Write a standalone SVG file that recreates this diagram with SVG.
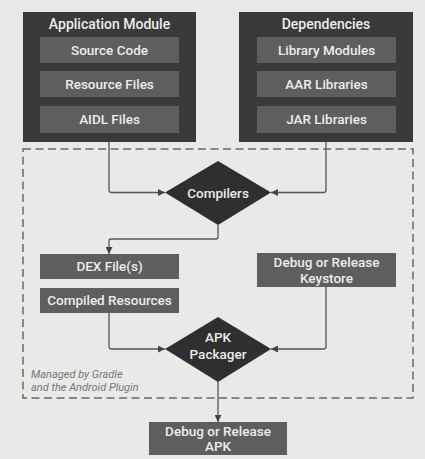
<svg xmlns="http://www.w3.org/2000/svg" width="425" height="459" viewBox="0 0 425 459">
<style>
.bg{fill:#e9e9e7}
.outer{fill:#3a3a3a}
.inner{fill:#5e5e5e}
.dia{fill:#2f2f2f}
.t{font-family:Roboto,"Liberation Sans",sans-serif;font-weight:500;fill:#ececec;text-anchor:middle}
.h{font-size:14px}
.s{font-size:13.5px}
.conn{fill:none;stroke:#555;stroke-width:1.3;stroke-linejoin:round}
.dash{fill:none;stroke:#6a6a6a;stroke-width:1.5;stroke-dasharray:8 4.5}
.note{font-family:Roboto,"Liberation Sans",sans-serif;font-style:italic;font-size:11px;fill:#777}
</style>
<defs>
<marker id="ah" viewBox="0 0 10 10" refX="10" refY="5" markerWidth="7" markerHeight="7" orient="auto" markerUnits="userSpaceOnUse">
<path d="M0,0 L10,5 L0,10 z" fill="#444"/>
</marker>
</defs>
<rect class="bg" x="0" y="0" width="425" height="459"/>
<rect class="dash" x="23" y="149" width="390" height="249"/>
<g id="app-module">
<rect class="outer" x="23" y="12" width="173" height="130"/>
<text class="t h" x="109.5" y="29">Application Module</text>
<rect class="inner" x="40" y="37" width="139" height="26"/>
<text class="t s" x="109.5" y="55">Source Code</text>
<rect class="inner" x="40" y="71" width="139" height="26"/>
<text class="t s" x="109.5" y="89">Resource Files</text>
<rect class="inner" x="40" y="106" width="139" height="27"/>
<text class="t s" x="109.5" y="124">AIDL Files</text>
</g>
<g id="dependencies">
<rect class="outer" x="239" y="12" width="174" height="130"/>
<text class="t h" x="326" y="29">Dependencies</text>
<rect class="inner" x="257" y="37" width="139" height="26"/>
<text class="t s" x="326.5" y="55">Library Modules</text>
<rect class="inner" x="257" y="71" width="139" height="26"/>
<text class="t s" x="326.5" y="89">AAR Libraries</text>
<rect class="inner" x="257" y="106" width="139" height="27"/>
<text class="t s" x="326.5" y="124">JAR Libraries</text>
</g>
<g id="compilers">
<polygon class="dia" points="218,161 271,192.5 218,225 165,192.5"/>
<text class="t s" x="218" y="197.5">Compilers</text>
</g>
<g id="dex">
<rect class="inner" x="40" y="254" width="139" height="25"/>
<text class="t s" x="109.5" y="271">DEX File(s)</text>
</g>
<g id="compiled-resources">
<rect class="inner" x="40" y="288" width="139" height="25"/>
<text class="t s" x="109.5" y="305">Compiled Resources</text>
</g>
<g id="keystore">
<rect class="inner" x="257" y="253" width="139" height="34"/>
<text class="t s" x="326.5" y="267">Debug or Release</text>
<text class="t s" x="326.5" y="283">Keystore</text>
</g>
<g id="apk-packager">
<polygon class="dia" points="218,317 271,349 218,382 165,349"/>
<text class="t s" x="218" y="342">APK</text>
<text class="t s" x="218" y="359">Packager</text>
</g>
<g id="apk">
<rect class="inner" x="149" y="422" width="138" height="33"/>
<text class="t s" x="218" y="435.5">Debug or Release</text>
<text class="t s" x="218" y="451">APK</text>
</g>
<g id="label">
<text class="note" x="31" y="377.5">Managed by Gradle</text>
<text class="note" x="31" y="390.5">and the Android Plugin</text>
</g>
<g id="connectors">
<path class="conn" d="M109,142 V190 Q109,192.5 111.5,192.5 H165" marker-end="url(#ah)"/>
<path class="conn" d="M326,142 V190 Q326,192.5 323.5,192.5 H271" marker-end="url(#ah)"/>
<path class="conn" d="M218,225 V237 Q218,239 216,239 H111 Q109,239 109,241 V254" marker-end="url(#ah)"/>
<path class="conn" d="M109,313 V346.5 Q109,349 111.5,349 H165" marker-end="url(#ah)"/>
<path class="conn" d="M326,287 V346.5 Q326,349 323.5,349 H271" marker-end="url(#ah)"/>
<path class="conn" d="M218,382 V422" marker-end="url(#ah)"/>
</g>
</svg>
